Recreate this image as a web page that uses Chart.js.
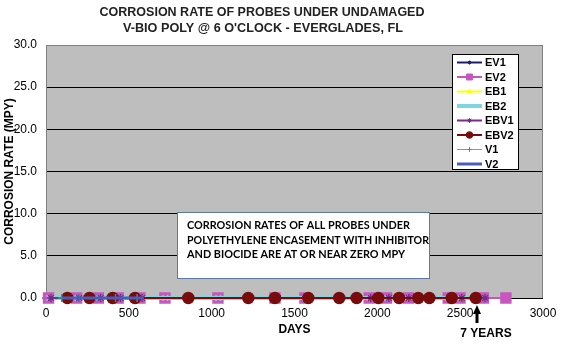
<!DOCTYPE html>
<html><head><meta charset="utf-8">
<script src="https://cdn.jsdelivr.net/npm/chart.js@4"></script>
<style>html,body{margin:0;padding:0;background:#fff}#wrap{width:582px;height:356px}</style>
</head><body><div id="wrap"><canvas id="c" width="582" height="356"></canvas></div>
<script>
const titleLines = ["CORROSION RATE OF PROBES UNDER UNDAMAGED", "V-BIO POLY @ 6 O'CLOCK - EVERGLADES, FL"];
const xAxisTitle = "DAYS";
const yAxisTitle = "CORROSION RATE (MPY)";
const noteLines = ["CORROSION RATES OF ALL PROBES UNDER", "POLYETHYLENE ENCASEMENT WITH INHIBITOR", "AND BIOCIDE ARE AT OR NEAR ZERO MPY"];
const markerLabel = "7 YEARS";
const markerDay = 2600;
const xTickValues = [0, 500, 1000, 1500, 2000, 2500, 3000];
const yTickLabels = ["0.0", "5.0", "10.0", "15.0", "20.0", "25.0", "30.0"];
const seriesNames = ["EV1", "EV2", "EB1", "EB2", "EBV1", "EBV2", "V1", "V2"];

const ev1Days = [0, 129, 262, 402, 537, 859, 1221, 1382, 1573, 1770, 1875, 2006, 2131, 2247, 2314, 2449, 2594];
const ev1Rate = [0, 0, 0, 0, 0, 0, 0, 0, 0, 0, 0, 0, 0, 0, 0, 0, 0];
const ev2Days = [15, 185, 316, 436, 567, 718, 1038, 1382, 1563, 1951, 2056, 2187, 2428, 2499, 2640, 2776];
const ev2Rate = [0, 0, 0, 0, 0, 0, 0, 0, 0, 0, 0, 0, 0, 0, 0, 0];
const eb1Days = [129, 262, 402, 537, 859, 1221, 1382, 1583, 1770, 1875, 2006, 2131, 2247, 2314, 2449, 2594];
const eb1Rate = [0, 0, 0, 0, 0, 0, 0, 0, 0, 0, 0, 0, 0, 0, 0, 0];
const eb2Days = [20, 190, 320, 440, 570, 720, 1040, 1385, 1565, 1955, 2060, 2190, 2430, 2500, 2640];
const eb2Rate = [0, 0, 0, 0, 0, 0, 0, 0, 0, 0, 0, 0, 0, 0, 0];
const ebv1Days = [30, 200, 330, 450, 580, 1400, 1590, 1960, 2070, 2190, 2440, 2510, 2650];
const ebv1Rate = [0, 0, 0, 0, 0, 0, 0, 0, 0, 0, 0, 0, 0];
const ebv2Days = [129, 262, 402, 537, 859, 1221, 1382, 1583, 1770, 1875, 2006, 2131, 2247, 2314, 2449, 2594];
const ebv2Rate = [0, 0, 0, 0, 0, 0, 0, 0, 0, 0, 0, 0, 0, 0, 0, 0];
const v1Days = [95, 200, 300, 420, 550];
const v1Rate = [0, 0, 0, 0, 0];
const v2Days = [100, 200, 300, 420, 590];
const v2Rate = [0, 0, 0, 0, 0];

const seriesDays = [ev1Days, ev2Days, eb1Days, eb2Days, ebv1Days, ebv2Days, v1Days, v2Days];
const seriesRates = [ev1Rate, ev2Rate, eb1Rate, eb2Rate, ebv1Rate, ebv2Rate, v1Rate, v2Rate];

const styles = [
  {c:'#1C1C6E', pc:'#1C1C6E', w:2, ps:'rectRot', r:3},
  {c:'#C856BE', pc:'#C856BE', w:2, ps:'rect', r:7},
  {c:'#FFFF00', pc:'#FFFF00', w:2, ps:'triangle', r:4},
  {c:'#7FD6E0', pc:'#7FD6E0', w:4, ps:'crossRot', r:4},
  {c:'#7B2A8A', pc:'#7B2A8A', w:2, ps:'star', r:4},
  {c:'#780C0C', pc:'#780C0C', w:2, ps:'circle', r:5.5},
  {c:'#5FA8B8', pc:'#3C8FA0', w:1, ps:'cross', r:4},
  {c:'#4A5CB8', pc:'#4A5CB8', w:3, ps:'circle', r:0}
];

const datasets = seriesNames.map((name, i) => ({
  label: name,
  data: seriesDays[i].map((d, k) => ({x: d, y: seriesRates[i][k]})),
  borderColor: styles[i].c,
  backgroundColor: styles[i].pc,
  pointBackgroundColor: styles[i].pc,
  pointBorderColor: styles[i].pc,
  borderWidth: styles[i].w,
  pointStyle: styles[i].ps,
  pointRadius: styles[i].r,
  pointBorderWidth: 1.5,
  tension: 0,
  clip: false,
  order: seriesNames.length - i
}));

const plotFrame = {
  id: 'plotFrame',
  beforeDraw(chart) {
    const {ctx, chartArea: a} = chart;
    ctx.save();
    ctx.fillStyle = '#fff';
    ctx.fillRect(0, 0, chart.width, chart.height);
    ctx.fillStyle = '#BEBEBE';
    ctx.fillRect(a.left, a.top, a.right - a.left, a.bottom - a.top);
    ctx.restore();
  },
  beforeDatasetsDraw(chart) {
    const {ctx, chartArea: a} = chart;
    ctx.save();
    ctx.strokeStyle = '#808080';
    ctx.lineWidth = 1;
    ctx.strokeRect(a.left + 0.5, a.top + 0.5, a.right - a.left - 1, a.bottom - a.top);
    ctx.strokeStyle = '#000';
    ctx.beginPath();
    ctx.moveTo(a.left, Math.round(a.bottom) + 0.5);
    ctx.lineTo(a.right, Math.round(a.bottom) + 0.5);
    ctx.stroke();
    ctx.restore();
  },
  afterDraw(chart) {
    const {ctx} = chart;
    ctx.save();
    // title
    ctx.fillStyle = '#222';
    ctx.textAlign = 'center';
    ctx.textBaseline = 'middle';
    ctx.font = 'bold 13px "Liberation Sans", Arial, sans-serif';
    ctx.fillText(titleLines[0], 262, 12, 325);
    ctx.fillText(titleLines[1], 263, 28, 280);

    // note box
    ctx.fillStyle = '#fff';
    ctx.fillRect(177, 212, 252, 66);
    ctx.strokeStyle = '#5A78A8';
    ctx.lineWidth = 1;
    ctx.strokeRect(177.5, 212.5, 252, 66);
    ctx.fillStyle = '#000';
    ctx.textAlign = 'left';
    ctx.font = 'bold 12px Lato, "Open Sans", sans-serif';
    const ny = [225, 240, 254];
    const nw = [223, 242, 218];
    noteLines.forEach((t, i) => ctx.fillText(t, 187, ny[i], nw[i]));

    // legend
    const lx = 452, ly = 54, lw = 66, lh = 115;
    ctx.fillStyle = '#fff';
    ctx.fillRect(lx, ly, lw, lh);
    ctx.strokeStyle = '#000';
    ctx.strokeRect(lx + 0.5, ly + 0.5, lw, lh);
    ctx.font = 'bold 11px "Liberation Sans", Arial, sans-serif';
    chart.data.datasets.forEach((ds, i) => {
      const y = 62.5 + i * 14.5;
      ctx.strokeStyle = ds.borderColor;
      ctx.lineWidth = ds.borderWidth;
      ctx.beginPath();
      ctx.moveTo(457, y);
      ctx.lineTo(482, y);
      ctx.stroke();
      if (ds.pointRadius > 0) {
        ctx.fillStyle = ds.pointBackgroundColor;
        ctx.strokeStyle = ds.pointBorderColor;
        ctx.lineWidth = 1;
        Chart.helpers.drawPoint(ctx, {pointStyle: ds.pointStyle, radius: ds.pointRadius * 0.6, rotation: 0, borderWidth: 1}, 469.5, y);
      }
      ctx.fillStyle = '#000';
      ctx.textAlign = 'left';
      ctx.textBaseline = 'middle';
      ctx.fillText(ds.label, 485, y + 0.5);
    });

    // 7 years arrow
    const xs = chart.scales.x;
    const ax = Math.round(xs.getPixelForValue(markerDay));
    ctx.fillStyle = '#000';
    ctx.fillRect(ax - 1.5, 312, 3, 11);
    ctx.beginPath();
    ctx.moveTo(ax, 305);
    ctx.lineTo(ax - 4, 314);
    ctx.lineTo(ax + 4, 314);
    ctx.closePath();
    ctx.fill();
    ctx.textAlign = 'center';
    ctx.textBaseline = 'middle';
    ctx.font = 'bold 12px "Liberation Sans", Arial, sans-serif';
    ctx.fillText(markerLabel, ax + 9, 334);
    ctx.restore();
  }
};

new Chart(document.getElementById('c'), {
  type: 'line',
  data: {datasets},
  plugins: [plotFrame],
  options: {
    responsive: false,
    devicePixelRatio: 1,
    animation: false,
    layout: {padding: {top: 45, right: 39, left: 0, bottom: 0}},
    plugins: {legend: {display: false}, title: {display: false}, tooltip: {enabled: false}},
    scales: {
      x: {
        type: 'linear', min: 0, max: 3000,
        afterBuildTicks: s => { s.ticks = xTickValues.map(v => ({value: v})); },
        afterFit: s => { s.height = 58; },
        grid: {display: false, drawTicks: false},
        border: {display: false},
        ticks: {color: '#000', padding: 8, font: {family: '"Liberation Sans", Arial, sans-serif', size: 12}, maxRotation: 0, callback: v => String(v)},
        title: {display: true, text: xAxisTitle, color: '#000', font: {family: '"Liberation Sans", Arial, sans-serif', size: 12, weight: 'bold'}, padding: {top: 0, bottom: 19}}
      },
      y: {
        min: 0, max: 30,
        afterBuildTicks: s => { s.ticks = yTickLabels.map(t => ({value: parseFloat(t)})); },
        afterFit: s => { s.width = 46; },
        grid: {color: '#000', lineWidth: 1, drawTicks: false},
        border: {display: false},
        ticks: {color: '#000', padding: 9, font: {family: '"Liberation Sans", Arial, sans-serif', size: 12}, callback: (v, i) => yTickLabels[i]},
        title: {display: true, text: yAxisTitle, color: '#000', font: {family: '"Liberation Sans", Arial, sans-serif', size: 12, weight: 'bold'}, padding: {top: 2, bottom: 0}}
      }
    }
  }
});
</script>
</body></html>
